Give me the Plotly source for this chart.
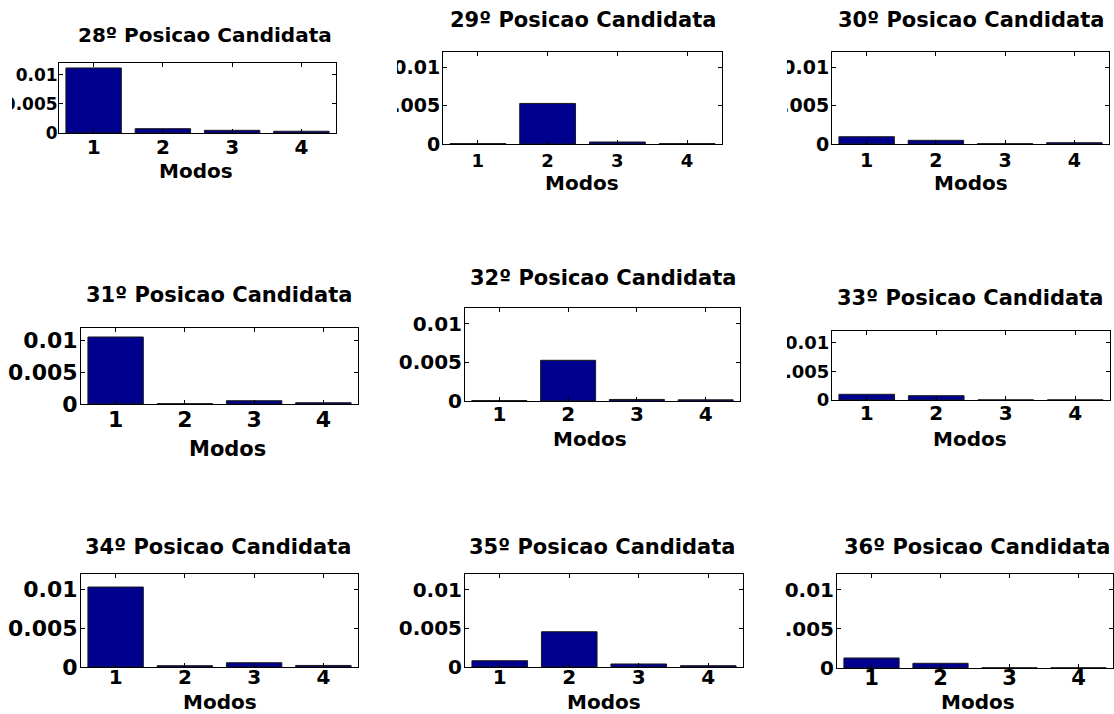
import plotly.graph_objects as go

W, H = 1114, 714

# ---------------- data ----------------
modos = [1, 2, 3, 4]
y_tickvals = [0, 0.005, 0.01]
y_ticktext = ["0", "0.005", "0.01"]
x_tickvals = [1, 2, 3, 4]
x_ticktext = ["1", "2", "3", "4"]

titles = ["28º Posicao Candidata", "29º Posicao Candidata", "30º Posicao Candidata",
          "31º Posicao Candidata", "32º Posicao Candidata", "33º Posicao Candidata",
          "34º Posicao Candidata", "35º Posicao Candidata", "36º Posicao Candidata"]
xlabel = "Modos"

v28 = [0.01115, 0.00074, 0.00046, 0.00030]
v29 = [0.00005, 0.00529, 0.00026, 0.00005]
v30 = [0.00095, 0.00048, 0.00004, 0.00017]
v31 = [0.01058, 0.00005, 0.00052, 0.00020]
v32 = [0.00005, 0.00525, 0.00020, 0.00015]
v33 = [0.00099, 0.00075, 0.00002, 0.00002]
v34 = [0.01032, 0.00017, 0.00055, 0.00020]
v35 = [0.00081, 0.00455, 0.00039, 0.00017]
v36 = [0.00128, 0.00060, 0.00003, 0.00003]
series = [v28, v29, v30, v31, v32, v33, v34, v35, v36]

# ---------------- layout (pixel boxes) ----------------
# left, right, top, bottom
boxes = [
    (59, 336, 63, 133), (443, 722, 52, 144), (832, 1109, 52, 144),
    (81, 358, 328, 404), (465, 740, 308, 401), (832, 1110, 331, 400),
    (81, 358, 574, 667), (465, 743, 574, 667), (837, 1113, 574, 668),
]
title_pos = [(205, 35), (583, 20), (971, 20),
             (219, 295), (603, 278), (970, 298),
             (218, 547), (602, 547), (977, 547)]
title_size = [20, 21, 21, 21, 21, 21, 21, 21, 21]
modos_pos = [(196, 171), (582, 183), (971, 183),
             (227, 449), (590, 439), (970, 439),
             (220, 702), (604, 702), (978, 702)]
modos_size = [20, 20, 20, 21, 20, 20, 20, 20, 20]
ytick_size = [17, 19, 19, 22, 20, 18, 22, 20, 20]
ytick_standoff = [-3, -2, -2, -2, -2, -2, -2, -2, -2]
xtick_size = [20, 18, 19, 22, 20, 20, 20, 20, 21]
xtick_standoff = [-4, 0, -1, -4, -5, -5, -8, -8, -9]

FONT = "DejaVu Sans"
BAR = "#00008f"

def px_x(x):
    return x / W

def px_y(y):
    return 1 - y / H

fig = go.Figure()
layout = dict(
    width=W, height=H, margin=dict(l=0, r=0, t=0, b=0, autoexpand=False),
    paper_bgcolor="white", plot_bgcolor="white", showlegend=False,
    font=dict(family=FONT, color="black"),
)
annotations = []
for i, (vals, box) in enumerate(zip(series, boxes)):
    n = i + 1
    xa = "x" if n == 1 else f"x{n}"
    ya = "y" if n == 1 else f"y{n}"
    fig.add_trace(go.Bar(
        x=modos, y=vals, width=0.8, xaxis=xa, yaxis=ya,
        marker=dict(color=BAR, line=dict(color="#1a1a1a", width=1)),
    ))
    l, r, t, b = box
    axis_common = dict(
        showline=True, linecolor="black", linewidth=1, mirror="allticks",
        ticks="inside", ticklen=4, tickcolor="black", tickwidth=1,
        showgrid=False, zeroline=False, automargin=False,
    )
    layout["xaxis" if n == 1 else f"xaxis{n}"] = dict(
        domain=[px_x(l), px_x(r)], anchor=ya, range=[0.5, 4.5],
        tickvals=x_tickvals, ticktext=x_ticktext,
        tickfont=dict(family=FONT, size=xtick_size[i], color="black", weight="bold"),
        ticklabelstandoff=xtick_standoff[i],
        **axis_common,
    )
    layout["yaxis" if n == 1 else f"yaxis{n}"] = dict(
        domain=[px_y(b), px_y(t)], anchor=xa, range=[0, 0.012],
        tickvals=y_tickvals, ticktext=y_ticktext,
        tickfont=dict(family=FONT, size=ytick_size[i], color="black", weight="bold"),
        ticklabelstandoff=ytick_standoff[i],
        **axis_common,
    )
    tx, ty = title_pos[i]
    annotations.append(dict(
        text=f"<b>{titles[i]}</b>", x=px_x(tx), y=px_y(ty), xref="paper", yref="paper",
        xanchor="center", yanchor="middle", showarrow=False,
        font=dict(family=FONT, size=title_size[i], color="black"),
    ))
    mx, my = modos_pos[i]
    annotations.append(dict(
        text=f"<b>{xlabel}</b>", x=px_x(mx), y=px_y(my), xref="paper", yref="paper",
        xanchor="center", yanchor="middle", showarrow=False,
        font=dict(family=FONT, size=modos_size[i], color="black"),
    ))

# white masks reproducing the clipped tick labels of the original figure
masks = [(0, 12, 55, 142), (365, 397, 45, 150), (752, 787, 45, 150),
         (752, 787, 322, 410), (752, 784, 566, 676)]
shapes = []
for x0, x1, y0, y1 in masks:
    shapes.append(dict(type="rect", xref="paper", yref="paper",
                       x0=px_x(x0), x1=px_x(x1), y0=px_y(y1), y1=px_y(y0),
                       fillcolor="white", line=dict(width=0), layer="above"))

layout["annotations"] = annotations
layout["shapes"] = shapes
fig.update_layout(**layout)
fig.write_html("out.html")
